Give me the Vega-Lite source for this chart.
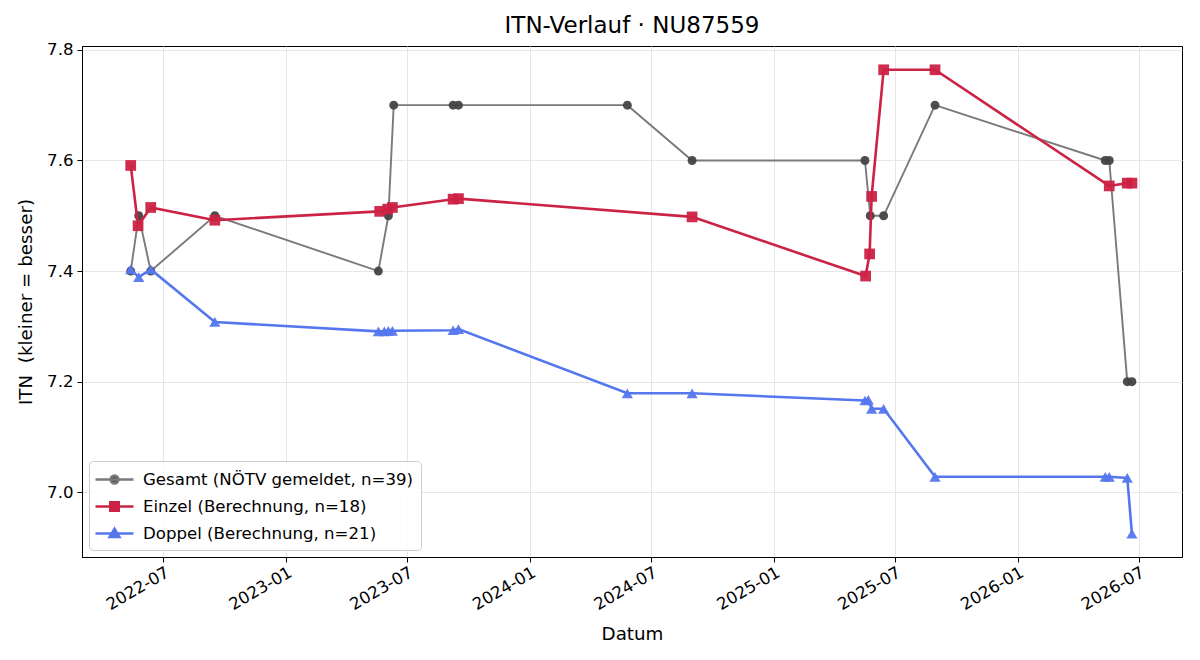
{
  "$schema": "https://vega.github.io/schema/vega-lite/v6.json",
  "width": 1100,
  "height": 511,
  "autosize": {"type": "none"},
  "padding": {"left": 82, "top": 46, "right": 18, "bottom": 103},
  "background": "white",
  "title": {"text": "ITN-Verlauf · NU87559", "font": "DejaVu Sans", "fontSize": 23, "fontWeight": "normal", "color": "black", "anchor": "middle", "offset": 4},
  "config": {
    "view": {"stroke": "black", "strokeWidth": 1},
    "axis": {"labelFont": "DejaVu Sans", "labelFontSize": 16.6, "labelColor": "black", "titleFont": "DejaVu Sans", "titleFontSize": 18.3, "titleFontWeight": "normal", "titleColor": "black", "tickColor": "black", "tickSize": 5, "domainColor": "black", "gridColor": "#e6e6e6", "gridWidth": 1},
    "legend": {"orient": "bottom-left", "offset": 7, "padding": 7, "labelFont": "DejaVu Sans", "labelFontSize": 16.6, "labelColor": "black", "labelLimit": 500, "symbolSize": 400, "symbolStrokeWidth": 2.4, "symbolOpacity": 1, "fillColor": "rgba(255,255,255,0.85)", "strokeColor": "#cccccc", "cornerRadius": 4, "rowPadding": 6, "labelOffset": 24, "titlePadding": 0}
  },
  "data": {"values": [
    {"series": "Gesamt (NÖTV gemeldet, n=39)", "date": "2022-05-13", "itn": 7.4},
    {"series": "Gesamt (NÖTV gemeldet, n=39)", "date": "2022-05-25", "itn": 7.5},
    {"series": "Gesamt (NÖTV gemeldet, n=39)", "date": "2022-06-12", "itn": 7.4},
    {"series": "Gesamt (NÖTV gemeldet, n=39)", "date": "2022-09-16", "itn": 7.5},
    {"series": "Gesamt (NÖTV gemeldet, n=39)", "date": "2023-05-19", "itn": 7.4},
    {"series": "Gesamt (NÖTV gemeldet, n=39)", "date": "2023-06-03", "itn": 7.5},
    {"series": "Gesamt (NÖTV gemeldet, n=39)", "date": "2023-06-11", "itn": 7.7},
    {"series": "Gesamt (NÖTV gemeldet, n=39)", "date": "2023-09-08", "itn": 7.7},
    {"series": "Gesamt (NÖTV gemeldet, n=39)", "date": "2023-09-16", "itn": 7.7},
    {"series": "Gesamt (NÖTV gemeldet, n=39)", "date": "2024-05-26", "itn": 7.7},
    {"series": "Gesamt (NÖTV gemeldet, n=39)", "date": "2024-08-31", "itn": 7.6},
    {"series": "Gesamt (NÖTV gemeldet, n=39)", "date": "2025-05-17", "itn": 7.6},
    {"series": "Gesamt (NÖTV gemeldet, n=39)", "date": "2025-05-25", "itn": 7.5},
    {"series": "Gesamt (NÖTV gemeldet, n=39)", "date": "2025-06-14", "itn": 7.5},
    {"series": "Gesamt (NÖTV gemeldet, n=39)", "date": "2025-08-30", "itn": 7.7},
    {"series": "Gesamt (NÖTV gemeldet, n=39)", "date": "2026-05-12", "itn": 7.6},
    {"series": "Gesamt (NÖTV gemeldet, n=39)", "date": "2026-05-18", "itn": 7.6},
    {"series": "Gesamt (NÖTV gemeldet, n=39)", "date": "2026-06-14", "itn": 7.2},
    {"series": "Gesamt (NÖTV gemeldet, n=39)", "date": "2026-06-21", "itn": 7.2},
    {"series": "Einzel (Berechnung, n=18)", "date": "2022-05-13", "itn": 7.591},
    {"series": "Einzel (Berechnung, n=18)", "date": "2022-05-24", "itn": 7.482},
    {"series": "Einzel (Berechnung, n=18)", "date": "2022-06-12", "itn": 7.515},
    {"series": "Einzel (Berechnung, n=18)", "date": "2022-09-16", "itn": 7.492},
    {"series": "Einzel (Berechnung, n=18)", "date": "2023-05-21", "itn": 7.508},
    {"series": "Einzel (Berechnung, n=18)", "date": "2023-06-02", "itn": 7.512},
    {"series": "Einzel (Berechnung, n=18)", "date": "2023-06-09", "itn": 7.515},
    {"series": "Einzel (Berechnung, n=18)", "date": "2023-09-08", "itn": 7.530},
    {"series": "Einzel (Berechnung, n=18)", "date": "2023-09-16", "itn": 7.531},
    {"series": "Einzel (Berechnung, n=18)", "date": "2024-08-31", "itn": 7.498},
    {"series": "Einzel (Berechnung, n=18)", "date": "2025-05-18", "itn": 7.391},
    {"series": "Einzel (Berechnung, n=18)", "date": "2025-05-24", "itn": 7.431},
    {"series": "Einzel (Berechnung, n=18)", "date": "2025-05-27", "itn": 7.535},
    {"series": "Einzel (Berechnung, n=18)", "date": "2025-06-14", "itn": 7.764},
    {"series": "Einzel (Berechnung, n=18)", "date": "2025-08-30", "itn": 7.764},
    {"series": "Einzel (Berechnung, n=18)", "date": "2026-05-18", "itn": 7.554},
    {"series": "Einzel (Berechnung, n=18)", "date": "2026-06-14", "itn": 7.559},
    {"series": "Einzel (Berechnung, n=18)", "date": "2026-06-21", "itn": 7.559},
    {"series": "Doppel (Berechnung, n=21)", "date": "2022-05-13", "itn": 7.403},
    {"series": "Doppel (Berechnung, n=21)", "date": "2022-05-25", "itn": 7.389},
    {"series": "Doppel (Berechnung, n=21)", "date": "2022-06-12", "itn": 7.403},
    {"series": "Doppel (Berechnung, n=21)", "date": "2022-09-16", "itn": 7.308},
    {"series": "Doppel (Berechnung, n=21)", "date": "2023-05-19", "itn": 7.291},
    {"series": "Doppel (Berechnung, n=21)", "date": "2023-05-28", "itn": 7.291},
    {"series": "Doppel (Berechnung, n=21)", "date": "2023-06-03", "itn": 7.292},
    {"series": "Doppel (Berechnung, n=21)", "date": "2023-06-09", "itn": 7.292},
    {"series": "Doppel (Berechnung, n=21)", "date": "2023-09-08", "itn": 7.293},
    {"series": "Doppel (Berechnung, n=21)", "date": "2023-09-16", "itn": 7.295},
    {"series": "Doppel (Berechnung, n=21)", "date": "2024-05-26", "itn": 7.179},
    {"series": "Doppel (Berechnung, n=21)", "date": "2024-08-31", "itn": 7.179},
    {"series": "Doppel (Berechnung, n=21)", "date": "2025-05-17", "itn": 7.166},
    {"series": "Doppel (Berechnung, n=21)", "date": "2025-05-22", "itn": 7.167},
    {"series": "Doppel (Berechnung, n=21)", "date": "2025-05-27", "itn": 7.151},
    {"series": "Doppel (Berechnung, n=21)", "date": "2025-06-14", "itn": 7.151},
    {"series": "Doppel (Berechnung, n=21)", "date": "2025-08-30", "itn": 7.028},
    {"series": "Doppel (Berechnung, n=21)", "date": "2026-05-12", "itn": 7.028},
    {"series": "Doppel (Berechnung, n=21)", "date": "2026-05-18", "itn": 7.028},
    {"series": "Doppel (Berechnung, n=21)", "date": "2026-06-14", "itn": 7.026},
    {"series": "Doppel (Berechnung, n=21)", "date": "2026-06-21", "itn": 6.925}
  ]},
  "encoding": {
    "x": {"field": "date", "type": "temporal",
      "scale": {"type": "utc", "domain": [{"year": 2022, "month": 3, "date": 1, "utc": true}, {"year": 2026, "month": 9, "date": 4, "utc": true}]},
      "axis": {"title": "Datum", "format": "%Y-%m", "labelAngle": -30, "labelAlign": "right", "labelBaseline": "top", "labelPadding": 2, "titlePadding": 12,
        "values": [
          {"year": 2022, "month": 7, "date": 1, "utc": true},
          {"year": 2023, "month": 1, "date": 1, "utc": true},
          {"year": 2023, "month": 7, "date": 1, "utc": true},
          {"year": 2024, "month": 1, "date": 1, "utc": true},
          {"year": 2024, "month": 7, "date": 1, "utc": true},
          {"year": 2025, "month": 1, "date": 1, "utc": true},
          {"year": 2025, "month": 7, "date": 1, "utc": true},
          {"year": 2026, "month": 1, "date": 1, "utc": true},
          {"year": 2026, "month": 7, "date": 1, "utc": true}
        ]}},
    "y": {"field": "itn", "type": "quantitative",
      "scale": {"domain": [6.883, 7.807], "nice": false, "zero": false},
      "axis": {"title": "ITN\u00a0 (kleiner = besser)", "values": [7.0, 7.2, 7.4, 7.6, 7.8], "format": ".1f", "labelPadding": 4, "titlePadding": 11}}
  },
  "layer": [
    {
      "transform": [{"filter": "datum.series === 'Gesamt (NÖTV gemeldet, n=39)'"}],
      "mark": {"type": "line", "color": "#7a7a7a", "strokeWidth": 1.9},
      "encoding": {}
    },
    {
      "transform": [{"filter": "datum.series === 'Gesamt (NÖTV gemeldet, n=39)'"}],
      "mark": {"type": "point", "shape": "circle", "filled": true, "color": "#444444", "opacity": 0.95, "size": 80},
      "encoding": {}
    },
    {
      "transform": [{"filter": "datum.series === 'Einzel (Berechnung, n=18)'"}],
      "mark": {"type": "line", "color": "#cc2244", "strokeWidth": 2.6},
      "encoding": {}
    },
    {
      "transform": [{"filter": "datum.series === 'Einzel (Berechnung, n=18)'"}],
      "mark": {"type": "point", "shape": "square", "filled": true, "color": "#cc2244", "opacity": 0.95, "size": 115},
      "encoding": {}
    },
    {
      "transform": [{"filter": "datum.series === 'Doppel (Berechnung, n=21)'"}],
      "mark": {"type": "line", "color": "#5577ee", "strokeWidth": 2.6},
      "encoding": {}
    },
    {
      "transform": [{"filter": "datum.series === 'Doppel (Berechnung, n=21)'"}],
      "mark": {"type": "point", "shape": "triangle-up", "filled": true, "color": "#5577ee", "opacity": 0.95, "size": 125},
      "encoding": {}
    },
    {
      "mark": {"type": "point", "filled": true, "opacity": 0},
      "encoding": {
        "fill": {"field": "series", "type": "nominal", "title": null,
          "scale": {"domain": ["Gesamt (NÖTV gemeldet, n=39)", "Einzel (Berechnung, n=18)", "Doppel (Berechnung, n=21)"], "range": ["#555555", "#cc2244", "#5577ee"]}},
        "stroke": {"field": "series", "type": "nominal", "title": null,
          "scale": {"domain": ["Gesamt (NÖTV gemeldet, n=39)", "Einzel (Berechnung, n=18)", "Doppel (Berechnung, n=21)"], "range": ["#7a7a7a", "#cc2244", "#5577ee"]}},
        "shape": {"field": "series", "type": "nominal", "title": null,
          "scale": {"domain": ["Gesamt (NÖTV gemeldet, n=39)", "Einzel (Berechnung, n=18)", "Doppel (Berechnung, n=21)"], "range": ["M-1.2,0H2.6M0.3,0A0.4,0.4,0,1,1,1.1,0A0.4,0.4,0,1,1,0.3,0Z", "M-1.2,0H2.6M0.27,-0.43H1.13V0.43H0.27Z", "M-1.2,0H2.6M0.7,-0.5L1.2,0.35H0.2Z"]}}
      }
    }
  ]
}
